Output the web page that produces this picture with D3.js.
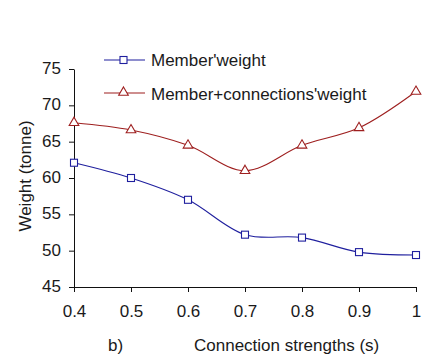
<!DOCTYPE html>
<html>
<head>
<meta charset="utf-8">
<script src="https://cdn.jsdelivr.net/npm/d3@7"></script>
<style>
  html, body { margin: 0; padding: 0; background: #fff; }
  svg { display: block; font-family: "Liberation Sans", Arial, sans-serif; }
</style>
</head>
<body>
<svg id="chart" width="422" height="355"></svg>
<script>
// Connection strength values along the x axis
const strengths = [0.4, 0.5, 0.6, 0.7, 0.8, 0.9, 1.0];
// Weight of members only (tonne)
const memberWeight = [62.1, 60.0, 57.0, 52.2, 51.8, 49.8, 49.4];
// Weight of members plus connections (tonne)
const memberConnWeight = [67.6, 66.6, 64.5, 61.0, 64.5, 66.9, 71.9];
const yTicks = [45, 50, 55, 60, 65, 70, 75];
const xTicks = [0.4, 0.5, 0.6, 0.7, 0.8, 0.9, 1.0];
const seriesNames = ["Member'weight", "Member+connections'weight"];

const FONT = "Liberation Sans, Arial, sans-serif";
const FS = 17;
const textColor = "#1a1a1a";
const svg = d3.select("#chart");
const x = d3.scaleLinear().domain([0.4, 1.0]).range([74, 416]);
const y = d3.scaleLinear().domain([45, 75]).range([287, 69]);

const blue = "#1f1f9e";
const red = "#9e1f1f";
const axisColor = "#111";

// Y axis
const yAxis = svg.append("g").attr("transform", "translate(74,0)")
  .call(d3.axisLeft(y).tickValues(yTicks).tickSize(5).tickSizeOuter(0).tickFormat(d3.format("d")));
yAxis.select(".domain").attr("stroke", axisColor);
yAxis.selectAll(".tick line").attr("stroke", axisColor);
yAxis.selectAll(".tick text").attr("font-size", FS).attr("fill", textColor).attr("x", -13)
  .attr("dy", "0.26em").attr("font-family", FONT);

// X axis
const xAxis = svg.append("g").attr("transform", "translate(0,287)")
  .call(d3.axisBottom(x).tickValues(xTicks).tickSize(5).tickSizeOuter(0)
    .tickFormat(d => d === 1 ? "1" : d3.format(".1f")(d)));
xAxis.select(".domain").attr("stroke", axisColor);
xAxis.selectAll(".tick line").attr("stroke", axisColor);
xAxis.selectAll(".tick text").attr("font-size", FS).attr("fill", textColor).attr("y", 18)
  .attr("font-family", FONT);

// Axis titles
svg.append("text").attr("x", 108).attr("y", 351).attr("font-size", FS).attr("fill", textColor).text("b)");
svg.append("text").attr("x", 194).attr("y", 351).attr("font-size", FS).attr("fill", textColor).text("Connection strengths (s)");
svg.append("text").attr("transform", "translate(31,176) rotate(-90)").attr("text-anchor", "middle")
  .attr("font-size", FS).attr("fill", textColor).text("Weight (tonne)");

const line = d3.line().x((d, i) => x(strengths[i])).y(d => y(d)).curve(d3.curveCatmullRom.alpha(0.5));

// Member + connections series
svg.append("path").datum(memberConnWeight).attr("d", line)
  .attr("fill", "none").attr("stroke", red).attr("stroke-width", 1.1);
const tri = d3.symbol().type(d3.symbolTriangle).size(40);
svg.append("g").selectAll("path").data(memberConnWeight).join("path")
  .attr("d", tri).attr("transform", (d, i) => `translate(${x(strengths[i])},${y(d)})`)
  .attr("fill", "#fff").attr("stroke", red).attr("stroke-width", 1.1);

// Member series
svg.append("path").datum(memberWeight).attr("d", line)
  .attr("fill", "none").attr("stroke", blue).attr("stroke-width", 1.1);
svg.append("g").selectAll("rect").data(memberWeight).join("rect")
  .attr("x", (d, i) => x(strengths[i]) - 3.5).attr("y", d => y(d) - 3.5)
  .attr("width", 7).attr("height", 7)
  .attr("fill", "#fff").attr("stroke", blue).attr("stroke-width", 1.1);

// Legend
const legend = svg.append("g").attr("font-family", FONT);
legend.append("line").attr("x1", 104).attr("x2", 145).attr("y1", 60).attr("y2", 60).attr("stroke", blue).attr("stroke-width", 1.1);
legend.append("rect").attr("x", 120).attr("y", 56.5).attr("width", 7).attr("height", 7)
  .attr("fill", "#fff").attr("stroke", blue).attr("stroke-width", 1.1);
legend.append("text").attr("x", 151).attr("y", 66).attr("font-size", FS).attr("fill", textColor).text(seriesNames[0]);
legend.append("line").attr("x1", 104).attr("x2", 145).attr("y1", 93).attr("y2", 93).attr("stroke", red).attr("stroke-width", 1.1);
legend.append("path").attr("d", tri).attr("transform", "translate(123.5,92.5)")
  .attr("fill", "#fff").attr("stroke", red).attr("stroke-width", 1.1);
legend.append("text").attr("x", 151).attr("y", 100).attr("font-size", FS).attr("fill", textColor).text(seriesNames[1]);
</script>
</body>
</html>
